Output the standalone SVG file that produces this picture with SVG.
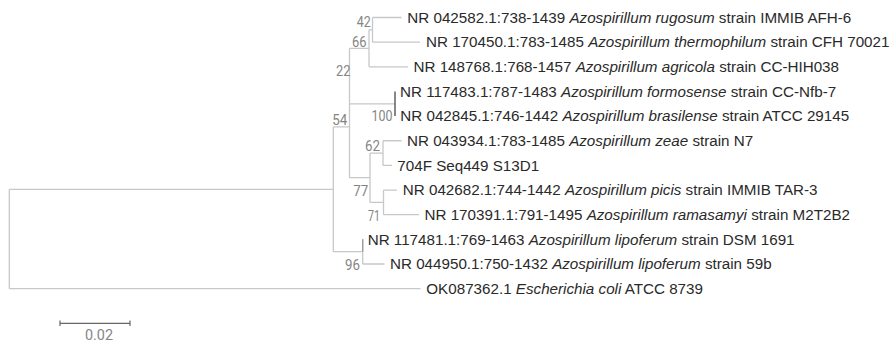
<svg xmlns="http://www.w3.org/2000/svg" width="894" height="343" viewBox="0 0 894 343">
<style>
.t{font-family:"Liberation Sans",Arial,sans-serif;font-size:15.2px;fill:#2a2a2a}
.i{font-style:italic}
.b{font-family:Roboto,"DejaVu Sans",sans-serif;font-size:14.5px;fill:#858585;text-anchor:end}
.e{fill:none;stroke:#c8c8c8;stroke-width:1.3}
.d{fill:none;stroke:#6a6a6a;stroke-width:1.6}
.s{fill:none;stroke:#666;stroke-width:1.2}
</style>
<rect width="894" height="343" fill="#fff"/>
<g id="connectors">
<path class="e" d="M9.3 189.3H333.3M9.3 288.65H420.5M333.3 126.9H349.5M333.3 251.7H362.7M349.5 177.7H370M349.5 48.3H369M349.5 103.8H395M369 29.8H372.5M369 66.8H408M372.5 17.5H401.5M372.5 42.15H420M370 153.1H383M370 202.4H383.5M383 140.75H401.5M383 165.4H392M383.5 190.05H397M383.5 214.7H419M362.7 264H384.5"/>
<path class="e" d="M9.3 189.3V288.65M333.3 126.9V251.7M349.5 48.3V177.7M369 29.8V66.8M372.5 17.5V42.15M383 140.75V165.4M383.5 190.05V214.7M370 153.1V202.4M362.7 239.35V264"/>
<path class="d" d="M395 91.45V116.1"/>
<path class="e" style="stroke:#9a9a9a" d="M362.7 239.35V251.7"/>
</g>
<g id="n42"><text class="b" x="370.7" y="27.3" textLength="14" lengthAdjust="spacingAndGlyphs">42</text></g>
<g id="n66"><text class="b" x="366.5" y="46.7" textLength="14.5" lengthAdjust="spacingAndGlyphs">66</text></g>
<g id="n22"><text class="b" x="350.5" y="76" textLength="14.5" lengthAdjust="spacingAndGlyphs">22</text></g>
<g id="n100"><text class="b" x="392.5" y="121" textLength="21" lengthAdjust="spacingAndGlyphs">100</text></g>
<g id="n54"><text class="b" x="347.3" y="124.5" textLength="15" lengthAdjust="spacingAndGlyphs">54</text></g>
<g id="n62"><text class="b" x="380" y="151" textLength="15" lengthAdjust="spacingAndGlyphs">62</text></g>
<g id="n77"><text class="b" x="368.3" y="196" textLength="15" lengthAdjust="spacingAndGlyphs">77</text></g>
<g id="n71"><text class="b" x="380" y="220.5" textLength="12" lengthAdjust="spacingAndGlyphs">71</text></g>
<g id="n96"><text class="b" x="360" y="269.5" textLength="15" lengthAdjust="spacingAndGlyphs">96</text></g>
<g id="leaf1"><text class="t" x="407.3" y="22.8">NR 042582.1:738-1439 <tspan class="i">Azospirillum rugosum</tspan> strain IMMIB AFH-6</text></g>
<g id="leaf2"><text class="t" x="426" y="47.45">NR 170450.1:783-1485 <tspan class="i">Azospirillum thermophilum</tspan> strain CFH 70021</text></g>
<g id="leaf3"><text class="t" x="413.5" y="72.1">NR 148768.1:768-1457 <tspan class="i">Azospirillum agricola</tspan> strain CC-HIH038</text></g>
<g id="leaf4"><text class="t" x="400" y="96.75">NR 117483.1:787-1483 <tspan class="i">Azospirillum formosense</tspan> strain CC-Nfb-7</text></g>
<g id="leaf5"><text class="t" x="400.3" y="121.4">NR 042845.1:746-1442 <tspan class="i">Azospirillum brasilense</tspan> strain ATCC 29145</text></g>
<g id="leaf6"><text class="t" x="407" y="146.05">NR 043934.1:783-1485 <tspan class="i">Azospirillum zeae</tspan> strain N7</text></g>
<g id="leaf7"><text class="t" x="397.3" y="170.7">704F Seq449 S13D1</text></g>
<g id="leaf8"><text class="t" x="402.8" y="195.35">NR 042682.1:744-1442 <tspan class="i">Azospirillum picis</tspan> strain IMMIB TAR-3</text></g>
<g id="leaf9"><text class="t" x="424.5" y="220">NR 170391.1:791-1495 <tspan class="i">Azospirillum ramasamyi</tspan> strain M2T2B2</text></g>
<g id="leaf10"><text class="t" x="367.7" y="244.65">NR 117481.1:769-1463 <tspan class="i">Azospirillum lipoferum</tspan> strain DSM 1691</text></g>
<g id="leaf11"><text class="t" x="390" y="269.3">NR 044950.1:750-1432 <tspan class="i">Azospirillum lipoferum</tspan> strain 59b</text></g>
<g id="leaf12"><text class="t" x="426.3" y="293.95">OK087362.1 <tspan class="i">Escherichia coli</tspan> ATCC 8739</text></g>
<g id="scalebar">
<path class="s" d="M60 323.3H130M60 320.5V326.1M130 320.5V326.1"/>
<text class="b" x="113" y="340" textLength="28" lengthAdjust="spacingAndGlyphs">0.02</text>
</g>
</svg>
